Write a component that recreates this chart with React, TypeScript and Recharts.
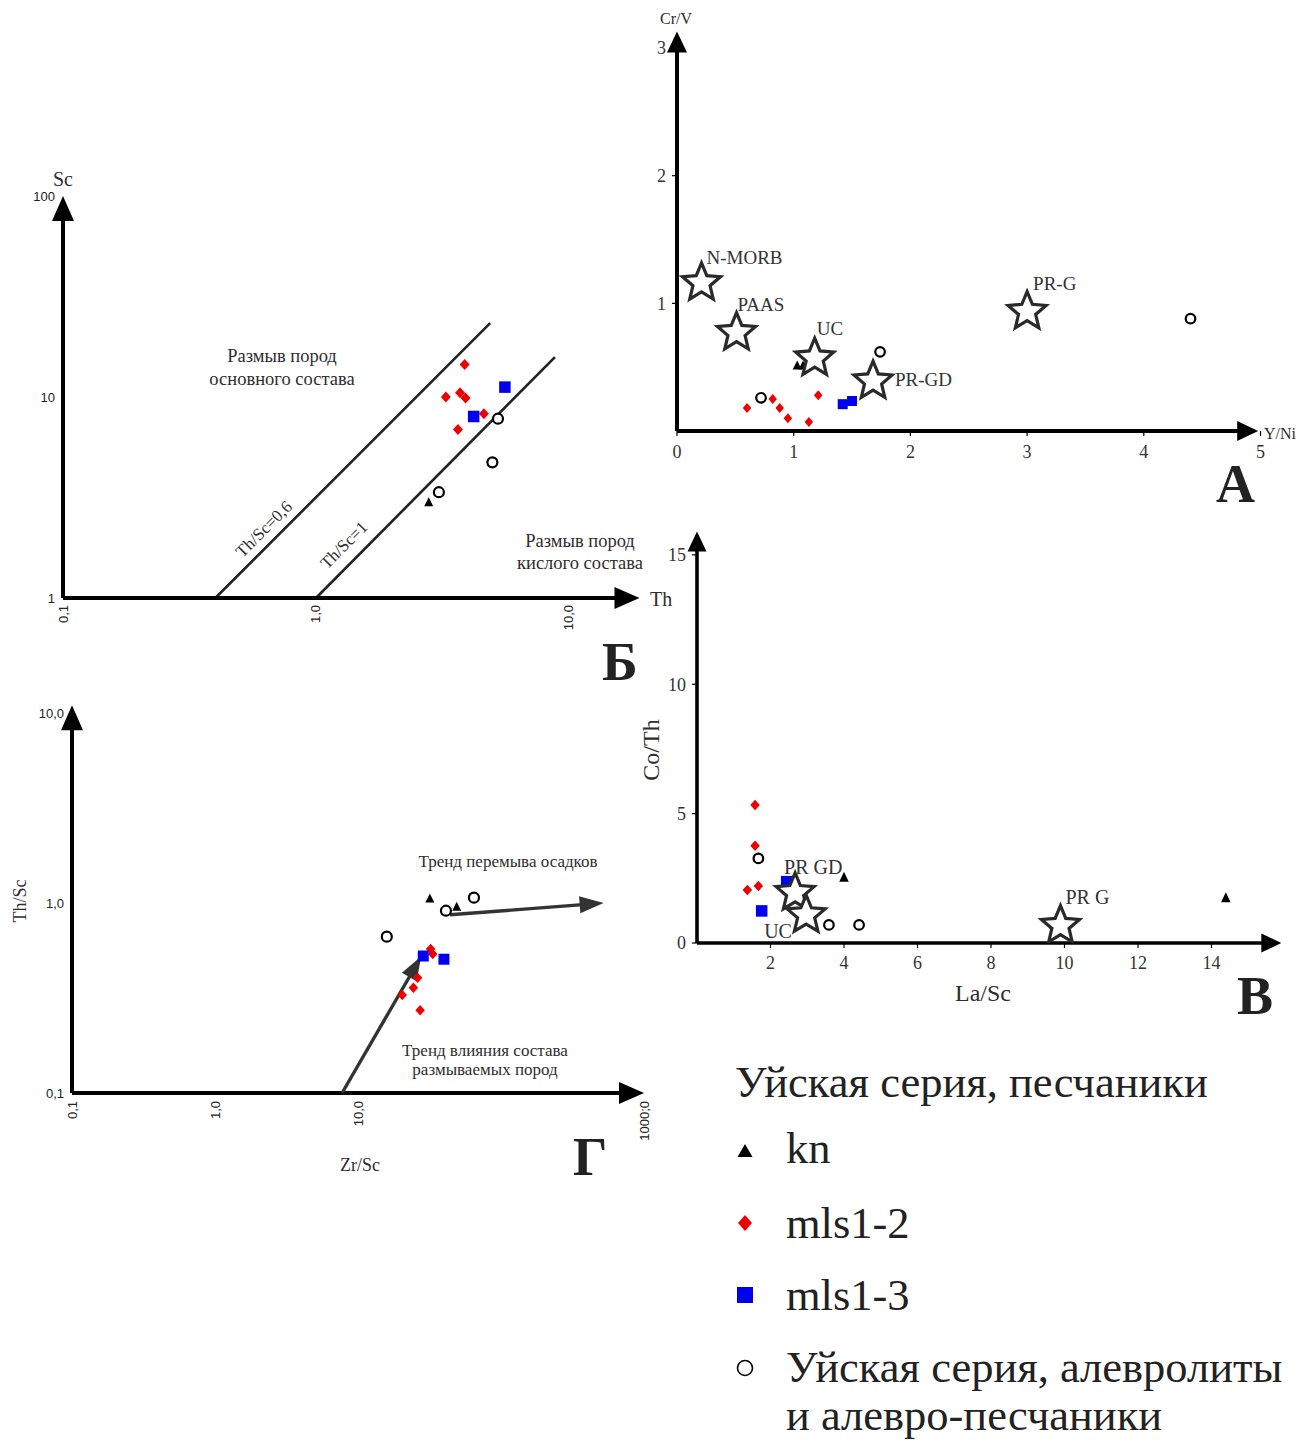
import { ScatterChart, Scatter, XAxis, YAxis, ReferenceLine } from 'recharts'

const SERIF = '"Liberation Serif", "Times New Roman", serif'
const SANS = '"Liberation Sans", Arial, sans-serif'
const INK = '#222'
const TXT = '#2e2e2e'
const RED = '#ee0000'
const BLUE = '#0000ee'

type Pt = { x: number; y: number }
type StarPt = Pt & { name: string }

// ---- А: Y/Ni vs Cr/V
const A_KN: Pt[] = [{ x: 1.03, y: 0.51 }, { x: 1.08, y: 0.51 }]
const A_MLS12: Pt[] = [
  { x: 0.6, y: 0.18 }, { x: 0.82, y: 0.25 }, { x: 0.88, y: 0.18 },
  { x: 0.95, y: 0.1 }, { x: 1.13, y: 0.07 }, { x: 1.21, y: 0.28 },
]
const A_MLS13: Pt[] = [{ x: 1.42, y: 0.21 }, { x: 1.5, y: 0.235 }]
const A_SILT: Pt[] = [{ x: 0.72, y: 0.26 }, { x: 1.74, y: 0.62 }, { x: 4.4, y: 0.88 }]
const A_STARS: StarPt[] = [
  { name: 'N-MORB', x: 0.21, y: 1.16 },
  { name: 'PAAS', x: 0.51, y: 0.77 },
  { name: 'UC', x: 1.18, y: 0.57 },
  { name: 'PR-GD', x: 1.68, y: 0.39 },
  { name: 'PR-G', x: 3.0, y: 0.935 },
]
const A_X_TICKS = [0, 1, 2, 3, 4, 5]
const A_Y_TICKS = [1, 2, 3]

// ---- Б: Th vs Sc (log-log)
const B_KN: Pt[] = [{ x: 2.79, y: 2.98 }]
const B_MLS12: Pt[] = [
  { x: 3.87, y: 14.5 }, { x: 3.26, y: 10.0 }, { x: 3.71, y: 10.5 },
  { x: 3.9, y: 9.9 }, { x: 4.61, y: 8.25 }, { x: 3.64, y: 6.9 },
]
const B_MLS13: Pt[] = [{ x: 5.58, y: 11.2 }, { x: 4.2, y: 8.0 }]
const B_SILT: Pt[] = [{ x: 5.24, y: 7.8 }, { x: 4.98, y: 4.73 }, { x: 3.06, y: 3.36 }]
const B_LINE_06: Pt[] = [{ x: 0.4, y: 1 }, { x: 4.88, y: 23.3 }]
const B_LINE_1: Pt[] = [{ x: 1.0, y: 1 }, { x: 8.8, y: 15.8 }]
const B_X_TICKS = [0.1, 1, 10]
const B_Y_TICKS = [1, 10, 100]

// ---- Г: Zr/Sc vs Th/Sc (log-log)
const G_KN: Pt[] = [{ x: 31.8, y: 1.05 }, { x: 49, y: 0.95 }]
const G_MLS12: Pt[] = [
  { x: 32.2, y: 0.573 }, { x: 33.3, y: 0.539 }, { x: 26.1, y: 0.404 },
  { x: 24.4, y: 0.358 }, { x: 20.4, y: 0.328 }, { x: 27.2, y: 0.273 },
]
const G_MLS13: Pt[] = [{ x: 28.6, y: 0.526 }, { x: 39.9, y: 0.506 }]
const G_SILT: Pt[] = [{ x: 64.7, y: 1.067 }, { x: 41.2, y: 0.911 }, { x: 15.9, y: 0.665 }]
const G_TREND_SOURCE: Pt[] = [{ x: 7.74, y: 0.1 }, { x: 27.7, y: 0.524 }]
const G_TREND_REWORK: Pt[] = [{ x: 44, y: 0.867 }, { x: 522, y: 1.0 }]
const G_X_TICKS = [0.1, 1, 10, 1000]
const G_Y_TICKS = [0.1, 1, 10]

// ---- В: La/Sc vs Co/Th
const V_KN: Pt[] = [{ x: 4.0, y: 2.52 }, { x: 14.39, y: 1.73 }]
const V_MLS12: Pt[] = [
  { x: 1.58, y: 5.33 }, { x: 1.58, y: 3.76 }, { x: 1.67, y: 2.2 },
  { x: 1.37, y: 2.05 }, { x: 2.35, y: 2.05 },
]
const V_MLS13: Pt[] = [{ x: 2.44, y: 2.37 }, { x: 1.76, y: 1.24 }]
const V_SILT: Pt[] = [{ x: 1.67, y: 3.27 }, { x: 3.59, y: 0.7 }, { x: 4.41, y: 0.7 }]
const V_STARS: StarPt[] = [
  { name: 'PR GD', x: 2.67, y: 1.94 },
  { name: 'UC', x: 2.97, y: 1.08 },
  { name: 'PR G', x: 9.89, y: 0.67 },
]
const V_X_TICKS = [2, 4, 6, 8, 10, 12, 14]
const V_Y_TICKS = [0, 5, 10, 15]

// label offsets of the reference stars (px from star centre to text start/baseline)
const A_STAR_LABEL: Record<string, [number, number]> = {
  'N-MORB': [5, -19], PAAS: [1, -22], UC: [2, -23], 'PR-GD': [22, 5], 'PR-G': [6, -22],
}
const V_STAR_LABEL: Record<string, [number, number]> = {
  'PR GD': [-11, -19], UC: [-42, 23], 'PR G': [5, -22],
}

const commaFmt = (v: number) => (v < 1 ? '0,1' : v >= 1000 ? '1000;0' : `${v},0`)

// ---------- shapes
const triangle = (w: number, h: number) => (p: any) => (
  <polygon
    points={`${p.cx},${p.cy - h * 0.6} ${p.cx - w / 2},${p.cy + h * 0.4} ${p.cx + w / 2},${p.cy + h * 0.4}`}
    fill="#000"
  />
)
const diamond = (w: number, h: number) => (p: any) => (
  <polygon
    points={`${p.cx},${p.cy - h / 2} ${p.cx + w / 2},${p.cy} ${p.cx},${p.cy + h / 2} ${p.cx - w / 2},${p.cy}`}
    fill={RED}
  />
)
const square = (s: number) => (p: any) => (
  <rect x={p.cx - s / 2} y={p.cy - s / 2} width={s} height={s} fill={BLUE} />
)
const ring = (r: number) => (p: any) => (
  <circle cx={p.cx} cy={p.cy} r={r} fill="#fff" stroke="#000" strokeWidth={2.2} />
)

function starPoints(cx: number, cy: number, R: number, r: number) {
  const pts: string[] = []
  for (let i = 0; i < 10; i++) {
    const a = -Math.PI / 2 + (i * Math.PI) / 5
    const rad = i % 2 === 0 ? R : r
    pts.push(`${cx + rad * Math.cos(a)},${cy + rad * Math.sin(a)}`)
  }
  return pts.join(' ')
}

const star = (offsets: Record<string, [number, number]>, fontSize: number) => (p: any) => {
  const name = p.payload?.name ?? p.name
  const [dx, dy] = offsets[name] || [0, 0]
  return (
    <g>
      <polygon points={starPoints(p.cx, p.cy, 20, 9)} fill="#fff" stroke="#2a2a2a" strokeWidth={3.2} />
      <text x={p.cx + dx} y={p.cy + dy} fontFamily={SERIF} fontSize={fontSize} fill="#333">
        {name}
      </text>
    </g>
  )
}

const arrow = (head: number, width: number, color: string, sw: number) => (p: any) => {
  const { x1, y1, x2, y2 } = p
  const dx = x2 - x1
  const dy = y2 - y1
  const len = Math.hypot(dx, dy) || 1
  const ux = dx / len
  const uy = dy / len
  const bx = x2 - ux * head
  const by = y2 - uy * head
  const nx = (-uy * width) / 2
  const ny = (ux * width) / 2
  return (
    <g>
      <line x1={x1} y1={y1} x2={bx + ux * 3} y2={by + uy * 3} stroke={color} strokeWidth={sw} />
      <polygon points={`${x2},${y2} ${bx + nx},${by + ny} ${bx - nx},${by - ny}`} fill={color} />
    </g>
  )
}

const rotTick = (p: any) => (
  <text
    x={p.x}
    y={p.y}
    transform={`rotate(-90 ${p.x} ${p.y})`}
    textAnchor="end"
    dominantBaseline="central"
    fontFamily={SANS}
    fontSize={13}
    fill={INK}
  >
    {commaFmt(p.payload.value)}
  </text>
)

const serifTick = { fontFamily: SERIF, fontSize: 18, fill: '#333' }
const sansTick = { fontFamily: SANS, fontSize: 13, fill: INK }

function box(left: number, top: number): React.CSSProperties {
  return { position: 'absolute', left, top }
}

function PanelA() {
  return (
    <div style={box(600, 0)}>
      <ScatterChart width={716} height={520} margin={{ top: 48, right: 55.5, bottom: 59, left: 0 }}>
        <XAxis type="number" dataKey="x" domain={[0, 5]} ticks={A_X_TICKS} allowDataOverflow axisLine={false}
          tickLine={{ stroke: '#000', strokeWidth: 1.2 }} tickSize={5} tickMargin={9} height={30} tick={serifTick} />
        <YAxis type="number" dataKey="y" domain={[0, 3]} ticks={A_Y_TICKS} allowDataOverflow axisLine={false}
          tickLine={{ stroke: '#000', strokeWidth: 1.2 }} tickSize={5} tickMargin={6} width={77} tick={serifTick} />
        <ReferenceLine segment={[{ x: 0, y: 0 }, { x: 4.98, y: 0 }]} ifOverflow="visible" shape={arrow(21, 20, '#000', 4)} />
        <ReferenceLine segment={[{ x: 0, y: 0 }, { x: 0, y: 3.13 }]} ifOverflow="visible" shape={arrow(21, 20, '#000', 4)} />
        <Scatter data={A_SILT} shape={ring(4.8)} isAnimationActive={false} />
        <Scatter data={A_MLS12} shape={diamond(8.5, 10)} isAnimationActive={false} />
        <Scatter data={A_MLS13} shape={square(10)} isAnimationActive={false} />
        <Scatter data={A_KN} shape={triangle(9, 9)} isAnimationActive={false} />
        <Scatter data={A_STARS} shape={star(A_STAR_LABEL, 19)} isAnimationActive={false} />
      </ScatterChart>
    </div>
  )
}

function PanelB() {
  return (
    <div style={box(0, 150)}>
      <ScatterChart width={680} height={540} margin={{ top: 46, right: 40.5, bottom: 52, left: 0 }}>
        <XAxis type="number" dataKey="x" scale="log" domain={[0.1, 19]} ticks={B_X_TICKS} allowDataOverflow
          axisLine={false} tickLine={false} tickSize={0} tickMargin={7} height={40} tick={rotTick} />
        <YAxis type="number" dataKey="y" scale="log" domain={[1, 100]} ticks={B_Y_TICKS} allowDataOverflow
          axisLine={false} tickLine={false} tickSize={0} tickMargin={8} width={63} tick={sansTick} />
        <ReferenceLine segment={B_LINE_06} ifOverflow="visible" stroke="#222" strokeWidth={2.6} />
        <ReferenceLine segment={B_LINE_1} ifOverflow="visible" stroke="#222" strokeWidth={2.6} />
        <ReferenceLine segment={[{ x: 0.1, y: 1 }, { x: 19, y: 1 }]} ifOverflow="visible" shape={arrow(25, 22, '#000', 4)} />
        <ReferenceLine segment={[{ x: 0.1, y: 1 }, { x: 0.1, y: 100 }]} ifOverflow="visible" shape={arrow(25, 22, '#000', 4)} />
        <Scatter data={B_MLS12} shape={diamond(10, 11)} isAnimationActive={false} />
        <Scatter data={B_MLS13} shape={square(11.5)} isAnimationActive={false} />
        <Scatter data={B_SILT} shape={ring(5)} isAnimationActive={false} />
        <Scatter data={B_KN} shape={triangle(9, 9)} isAnimationActive={false} />
      </ScatterChart>
    </div>
  )
}

function PanelG() {
  return (
    <div style={box(0, 690)}>
      <ScatterChart width={680} height={500} margin={{ top: 23, right: 36, bottom: 52, left: 0 }}>
        <XAxis type="number" dataKey="x" scale="log" domain={[0.1, 1000]} ticks={G_X_TICKS} allowDataOverflow
          axisLine={false} tickLine={false} tickSize={0} tickMargin={8} height={45} tick={rotTick} />
        <YAxis type="number" dataKey="y" scale="log" domain={[0.1, 10]} ticks={G_Y_TICKS} allowDataOverflow
          axisLine={false} tickLine={false} tickSize={0} tickMargin={8} width={72}
          tickFormatter={commaFmt} tick={sansTick} />
        <ReferenceLine segment={[{ x: 0.1, y: 0.1 }, { x: 1000, y: 0.1 }]} ifOverflow="visible" shape={arrow(25, 22, '#000', 4)} />
        <ReferenceLine segment={[{ x: 0.1, y: 0.1 }, { x: 0.1, y: 11 }]} ifOverflow="visible" shape={arrow(25, 22, '#000', 4)} />
        <Scatter data={G_SILT} shape={ring(5)} isAnimationActive={false} />
        <Scatter data={G_KN} shape={triangle(9, 9)} isAnimationActive={false} />
        <Scatter data={G_MLS12} shape={diamond(9.5, 10.5)} isAnimationActive={false} />
        <Scatter data={G_MLS13} shape={square(11)} isAnimationActive={false} />
        <ReferenceLine segment={G_TREND_SOURCE} ifOverflow="visible" shape={arrow(24, 17, '#333', 3.4)} />
        <ReferenceLine segment={G_TREND_REWORK} ifOverflow="visible" shape={arrow(24, 17, '#333', 3.4)} />
      </ScatterChart>
    </div>
  )
}

function PanelV() {
  return (
    <div style={box(600, 520)}>
      <ScatterChart width={716} height={500} margin={{ top: 9, right: 31, bottom: 47, left: 0 }}>
        <XAxis type="number" dataKey="x" domain={[0, 16]} ticks={V_X_TICKS} allowDataOverflow axisLine={false}
          tickLine={{ stroke: '#000', strokeWidth: 1.2 }} tickSize={5} tickMargin={8} height={30} tick={serifTick} />
        <YAxis type="number" dataKey="y" domain={[0, 16]} ticks={V_Y_TICKS} allowDataOverflow axisLine={false}
          tickLine={{ stroke: '#000', strokeWidth: 1.2 }} tickSize={5} tickMargin={6} width={97} tick={serifTick} />
        <ReferenceLine segment={[{ x: 0, y: 0 }, { x: 15.9, y: 0 }]} ifOverflow="visible" shape={arrow(20, 19, '#000', 3.6)} />
        <ReferenceLine segment={[{ x: 0, y: 0 }, { x: 0, y: 15.9 }]} ifOverflow="visible" shape={arrow(20, 19, '#000', 3.6)} />
        <Scatter data={V_MLS12} shape={diamond(9.5, 10.5)} isAnimationActive={false} />
        <Scatter data={V_MLS13} shape={square(11.5)} isAnimationActive={false} />
        <Scatter data={V_SILT} shape={ring(4.8)} isAnimationActive={false} />
        <Scatter data={V_KN} shape={triangle(9.5, 10)} isAnimationActive={false} />
        <Scatter data={V_STARS} shape={star(V_STAR_LABEL, 20)} isAnimationActive={false} />
      </ScatterChart>
    </div>
  )
}

function Overlay() {
  const t = { fontFamily: SERIF, fill: TXT }
  const big = { fontFamily: SERIF, fontWeight: 700, fontSize: 54, fill: INK }
  const leg = { fontFamily: SERIF, fontSize: 44.5, fill: INK }
  return (
    <svg width={1316} height={1443} style={{ position: 'absolute', left: 0, top: 0, pointerEvents: 'none' }}>
      {/* А */}
      <text {...t} x={676} y={24} fontSize={16} textAnchor="middle">Cr/V</text>
      <text {...t} x={1264} y={439} fontSize={16}>Y/Ni</text>
      <text {...big} x={1216} y={502}>А</text>

      {/* Б */}
      <text {...t} x={63} y={186} fontSize={20} textAnchor="middle">Sc</text>
      <text {...t} x={650} y={606} fontSize={20}>Th</text>
      <text {...t} x={282} y={362} fontSize={18.5} textAnchor="middle">Размыв пород</text>
      <text {...t} x={282} y={385} fontSize={18.5} textAnchor="middle">основного состава</text>
      <text {...t} x={264} y={529} fontSize={17} textAnchor="middle" dominantBaseline="central" transform="rotate(-45 264 529)">Th/Sc=0,6</text>
      <text {...t} x={344} y={545} fontSize={17} textAnchor="middle" dominantBaseline="central" transform="rotate(-45 344 545)">Th/Sc=1</text>
      <text {...t} x={580} y={547} fontSize={18.5} textAnchor="middle">Размыв пород</text>
      <text {...t} x={580} y={569} fontSize={18.5} textAnchor="middle">кислого состава</text>
      <text {...big} x={602} y={680}>Б</text>

      {/* Г */}
      <text {...t} x={20} y={901} fontSize={18} textAnchor="middle" dominantBaseline="central" transform="rotate(-90 20 901)">Th/Sc</text>
      <text {...t} x={360} y={1171} fontSize={18} textAnchor="middle">Zr/Sc</text>
      <text {...t} x={508} y={867} fontSize={17} textAnchor="middle">Тренд перемыва осадков</text>
      <text {...t} x={485} y={1056} fontSize={17} textAnchor="middle">Тренд влияния состава</text>
      <text {...t} x={485} y={1075} fontSize={17} textAnchor="middle">размываемых пород</text>
      <text {...big} x={573} y={1175}>Г</text>

      {/* В */}
      <text {...t} x={651} y={750} fontSize={24} textAnchor="middle" dominantBaseline="central" transform="rotate(-90 651 750)">Co/Th</text>
      <text {...t} x={983} y={1001} fontSize={24} textAnchor="middle">La/Sc</text>
      <text {...big} x={1237} y={1014}>В</text>

      {/* legend */}
      <text {...leg} x={735} y={1097}>Уйская серия, песчаники</text>
      <polygon points="745,1144 737.5,1157 752.5,1157" fill="#000" />
      <text {...leg} x={786} y={1163}>kn</text>
      <polygon points="745,1215 752,1223 745,1231 738,1223" fill={RED} />
      <text {...leg} x={786} y={1238}>mls1-2</text>
      <rect x={737} y={1287} width={16} height={16} fill={BLUE} />
      <text {...leg} x={786} y={1310}>mls1-3</text>
      <circle cx={745} cy={1368} r={7.5} fill="#fff" stroke="#000" strokeWidth={1.6} />
      <text {...leg} x={786} y={1382}>Уйская серия, алевролиты</text>
      <text {...leg} x={786} y={1430}>и алевро-песчаники</text>
    </svg>
  )
}

export default function App() {
  return (
    <div style={{ position: 'absolute', left: 0, top: 0, width: 1316, height: 1443, background: '#fff' }}>
      <PanelB />
      <PanelG />
      <PanelA />
      <PanelV />
      <Overlay />
    </div>
  )
}
